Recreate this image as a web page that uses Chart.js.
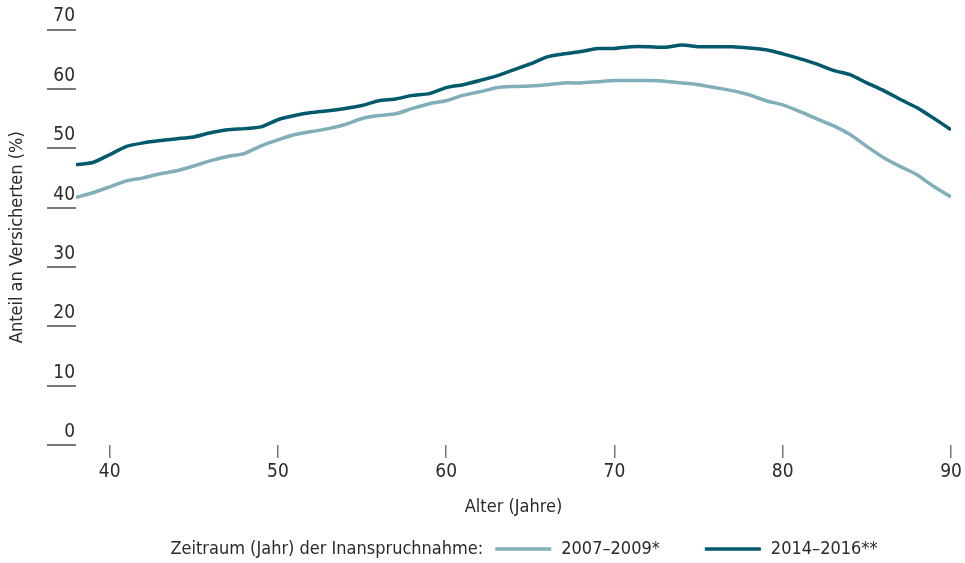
<!DOCTYPE html>
<html>
<head>
<meta charset="utf-8">
<script src="https://cdn.jsdelivr.net/npm/chart.js@4.4.1/dist/chart.umd.min.js"></script>
<style>
  html, body { margin: 0; padding: 0; background: #fff; }
  #wrap { width: 965px; height: 563px; }
</style>
</head>
<body>
<div id="wrap"><canvas id="c" width="965" height="563"></canvas></div>
<script>
// Alter (Jahre)
const ages = [38, 39, 40, 41, 42, 43, 44, 45, 46, 47, 48, 49, 50, 51, 52, 53, 54, 55, 56, 57, 58, 59,
  60, 61, 62, 63, 64, 65, 66, 67, 68, 69, 70, 71, 72, 73, 74, 75, 76, 77, 78, 79, 80, 81, 82, 83,
  84, 85, 86, 87, 88, 89, 90];

// Anteil an Versicherten (%), 2007–2009*
const share2007 = [41.7, 42.5, 43.5, 44.5, 45.0, 45.7, 46.2, 47.0, 47.9, 48.6, 49.1, 50.4, 51.4, 52.3,
  52.8, 53.3, 54.0, 55.0, 55.5, 55.8, 56.7, 57.5, 58.0, 58.9, 59.5, 60.2, 60.4, 60.5, 60.7, 61.0,
  61.0, 61.2, 61.4, 61.4, 61.4, 61.3, 61.0, 60.7, 60.2, 59.7, 59.0, 58.0, 57.3, 56.2, 55.0, 53.8,
  52.3, 50.3, 48.4, 46.9, 45.5, 43.5, 41.8];

// Anteil an Versicherten (%), 2014–2016**
const share2014 = [47.2, 47.6, 48.9, 50.3, 50.9, 51.3, 51.6, 51.9, 52.6, 53.1, 53.3, 53.6, 54.8, 55.5,
  56.0, 56.3, 56.7, 57.2, 58.0, 58.3, 58.9, 59.2, 60.2, 60.7, 61.4, 62.2, 63.2, 64.2, 65.4, 65.9,
  66.3, 66.8, 66.8, 67.1, 67.1, 67.0, 67.4, 67.1, 67.1, 67.1, 66.9, 66.6, 65.9, 65.1, 64.2, 63.1,
  62.4, 61.0, 59.7, 58.2, 56.8, 55.0, 53.1];

const seriesLabels = ['2007–2009*', '2014–2016**'];
const legendPrefix = 'Zeitraum (Jahr) der Inanspruchnahme:';
const xTicks = [40, 50, 60, 70, 80, 90];
const yTicks = [0, 10, 20, 30, 40, 50, 60, 70];

const FONT = "'Liberation Sans Narrow', 'DejaVu Sans Condensed', 'Roboto Condensed', Roboto, sans-serif";
const TXT = '#2b2b2b';
const TICK = '#777777';

const toPoints = (vals) => ages.map((a, i) => ({ x: a, y: vals[i] }));

// Legend drawn inline: prefix text followed by the two line samples
const inlineLegend = {
  id: 'inlineLegend',
  afterDraw(chart) {
    const ctx = chart.ctx;
    const y = 549;
    const lineW = 56, gapPre = 12, gapTxt = 10, gapItem = 45;
    ctx.save();
    ctx.font = '18px ' + FONT;
    ctx.fillStyle = TXT;
    ctx.textBaseline = 'middle';
    const wPre = ctx.measureText(legendPrefix).width;
    const w1 = ctx.measureText(seriesLabels[0]).width;
    const w2 = ctx.measureText(seriesLabels[1]).width;
    const total = wPre + gapPre + lineW + gapTxt + w1 + gapItem + lineW + gapTxt + w2;
    let x = 524 - total / 2;
    ctx.textAlign = 'left';
    ctx.fillText(legendPrefix, x, y);
    x += wPre + gapPre;
    chart.data.datasets.forEach((ds, i) => {
      ctx.strokeStyle = ds.borderColor;
      ctx.lineWidth = ds.borderWidth;
      ctx.beginPath();
      ctx.moveTo(x, y);
      ctx.lineTo(x + lineW, y);
      ctx.stroke();
      x += lineW + gapTxt;
      ctx.fillText(ds.label, x, y);
      x += (i === 0 ? w1 : w2) + gapItem;
    });
    ctx.restore();
  }
};

new Chart(document.getElementById('c'), {
  type: 'line',
  data: {
    datasets: [
      { label: seriesLabels[0], data: toPoints(share2007), borderColor: '#80aeb9', borderWidth: 3.5,
        pointRadius: 0, tension: 0.2, fill: false },
      { label: seriesLabels[1], data: toPoints(share2014), borderColor: '#005a6c', borderWidth: 3.5,
        pointRadius: 0, tension: 0.2, fill: false }
    ]
  },
  options: {
    responsive: false,
    animation: false,
    layout: { padding: { top: 29.5, right: 14, bottom: 43, left: 0 } },
    plugins: {
      legend: { display: false },
      tooltip: { enabled: false }
    },
    scales: {
      x: {
        type: 'linear',
        min: 38,
        max: 90,
        afterBuildTicks: (s) => { s.ticks = xTicks.map(v => ({ value: v })); },
        afterFit: (s) => { s.height = 75; },
        border: { display: false },
        grid: { drawOnChartArea: false, drawTicks: true, tickLength: 13, color: TICK, lineWidth: 1.5 },
        ticks: { font: { family: FONT, size: 19 }, color: TXT, padding: 3 },
        title: { display: true, text: 'Alter (Jahre)', font: { family: FONT, size: 18 }, color: TXT,
          padding: { top: 0, bottom: 2 } }
      },
      y: {
        min: 0,
        max: 70,
        afterBuildTicks: (s) => { s.ticks = yTicks.map(v => ({ value: v })); },
        afterFit: (s) => { s.width = 76; },
        border: { display: false },
        grid: { drawOnChartArea: false, drawTicks: true, tickLength: 29, color: TICK, lineWidth: 2 },
        ticks: { font: { family: FONT, size: 19 }, color: TXT, padding: -28, labelOffset: -13 },
        title: { display: true, text: 'Anteil an Versicherten (%)', font: { family: FONT, size: 18 }, color: TXT,
          padding: { top: 7, bottom: 0 } }
      }
    }
  },
  plugins: [inlineLegend]
});
</script>
</body>
</html>
